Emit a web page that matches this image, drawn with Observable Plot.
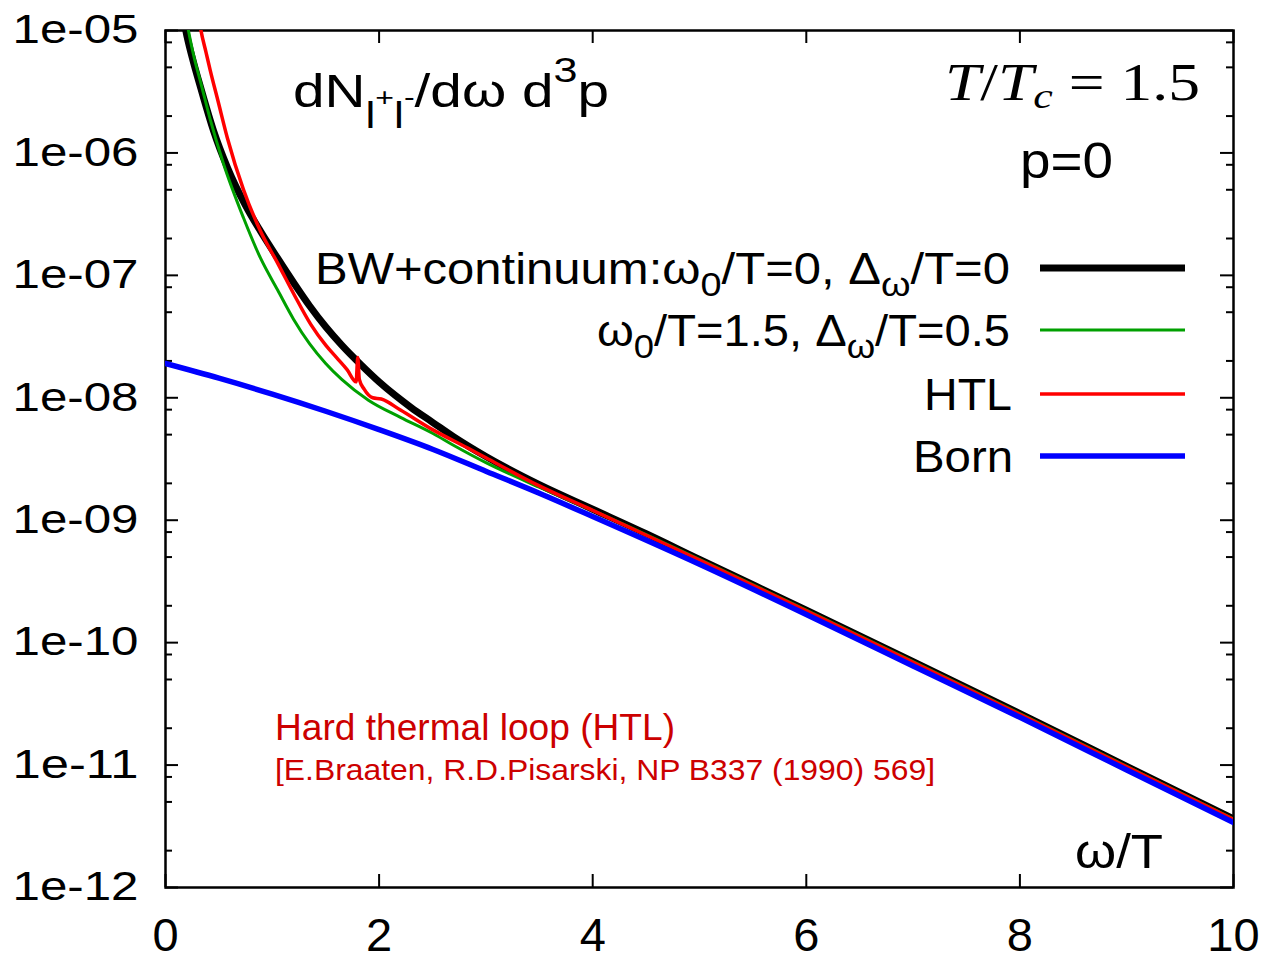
<!DOCTYPE html>
<html><head><meta charset="utf-8">
<script src="https://cdn.jsdelivr.net/npm/d3@7"></script>
<script src="https://cdn.jsdelivr.net/npm/@observablehq/plot@0.6"></script>
<style>body{margin:0;background:#fff} svg{display:block}</style>
</head><body><div id="chart"></div>
<script>
// ---- data (omega/T, log10 of rate) ----
const bornX = [0, 0.5, 1, 1.5, 2, 2.5, 3, 3.5, 4, 5, 6, 7, 8, 9, 10];
const bornY = [-7.72, -7.84, -7.97, -8.11, -8.26, -8.42, -8.60, -8.78, -8.97, -9.36, -9.77, -10.19, -10.61, -11.04, -11.47];

const bwX = [0.15, 0.19, 0.25, 0.33, 0.45, 0.58, 0.75, 0.89, 1.05, 1.2, 1.35, 1.5, 1.65, 1.83, 2.0, 2.15, 2.3, 2.5, 2.7, 3.0, 3.5, 4, 4.5, 5, 6, 7, 8, 9, 10];
const bwY = [-4.80, -5.00, -5.22, -5.47, -5.82, -6.12, -6.43, -6.64, -6.86, -7.06, -7.25, -7.42, -7.57, -7.73, -7.87, -7.98, -8.08, -8.20, -8.32, -8.48, -8.71, -8.91, -9.11, -9.32, -9.735, -10.155, -10.58, -11.01, -11.44];

const bwResX = [0.18, 0.215, 0.26, 0.34, 0.42, 0.54, 0.73, 0.89, 1.05, 1.2, 1.35, 1.5, 1.65, 1.9, 2.2, 2.5, 2.7, 3.0, 3.5, 4, 5, 6, 7, 8, 9, 10];
const bwResY = [-4.82, -5.00, -5.19, -5.46, -5.73, -6.08, -6.53, -6.86, -7.12, -7.36, -7.56, -7.72, -7.85, -8.02, -8.16, -8.29, -8.39, -8.53, -8.73, -8.92, -9.32, -9.735, -10.155, -10.58, -11.01, -11.44];

const htlX = [0.31, 0.33, 0.38, 0.42, 0.49, 0.58, 0.73, 0.89, 1.05, 1.2, 1.36, 1.5, 1.6, 1.7, 1.785, 1.80, 1.815, 1.86, 1.94, 2.02, 2.2, 2.5, 2.83, 3.0, 3.5, 4, 5, 6, 7, 8, 9, 10];
const htlY = [-4.88, -4.99, -5.18, -5.33, -5.57, -5.88, -6.30, -6.64, -6.90, -7.15, -7.40, -7.57, -7.67, -7.77, -7.87, -7.67, -7.85, -7.93, -8.00, -8.01, -8.10, -8.26, -8.41, -8.49, -8.72, -8.92, -9.325, -9.74, -10.16, -10.585, -11.015, -11.445];

// ---- axis ticks ----
const xTicks = [0, 2, 4, 6, 8, 10];
const yMajor = [1e-12, 1e-11, 1e-10, 1e-9, 1e-8, 1e-7, 1e-6, 1e-5];
const yMajorLabels = ["1e-12", "1e-11", "1e-10", "1e-09", "1e-08", "1e-07", "1e-06", "1e-05"];
const yMinorMult = [2, 5, 8];

const toRows = (xs, ys) => xs.map((x, i) => ({x, y: Math.pow(10, ys[i])}));
const born = toRows(bornX, bornY);
const bw = toRows(bwX, bwY);
const bwRes = toRows(bwResX, bwResY);
const htl = toRows(htlX, htlY);
const yMinor = yMajor.slice(0, -1).flatMap(d => yMinorMult.map(m => d * m));

const W = 1271, H = 960, mL = 165, mR = 38, mT = 30, mB = 73;
const fW = W - mL - mR, fH = H - mT - mB;
const FONT = "'Liberation Sans', Arial, sans-serif";

const chart = Plot.plot({
  width: W, height: H,
  marginLeft: mL, marginRight: mR, marginTop: mT, marginBottom: mB,
  x: {domain: [0, 10]},
  y: {type: "log", domain: [1e-12, 1e-5]},
  style: {fontFamily: FONT, background: "white", color: "black", overflow: "visible"},
  marks: [
    Plot.frame({stroke: "black", strokeWidth: 2.5}),
    Plot.tickX(xTicks, {x: d => d, stroke: "black", strokeWidth: 2, insetTop: fH - 13}),
    Plot.tickX(xTicks, {x: d => d, stroke: "black", strokeWidth: 2, insetBottom: fH - 13}),
    Plot.tickY(yMajor, {y: d => d, stroke: "black", strokeWidth: 2, insetRight: fW - 13}),
    Plot.tickY(yMajor, {y: d => d, stroke: "black", strokeWidth: 2, insetLeft: fW - 13}),
    Plot.tickY(yMinor, {y: d => d, stroke: "black", strokeWidth: 2, insetRight: fW - 7}),
    Plot.tickY(yMinor, {y: d => d, stroke: "black", strokeWidth: 2, insetLeft: fW - 7}),
    Plot.axisX(xTicks, {tickSize: 0, tickPadding: 30, fontSize: 47, label: null, tickFormat: d => String(d)}),
    Plot.axisY(yMajor, {tickSize: 0, tickPadding: 27, fontSize: 40, label: null, tickFormat: d => yMajorLabels[yMajor.indexOf(d)]}),
    Plot.line(bw, {x: "x", y: "y", stroke: "black", strokeWidth: 7, curve: "monotone-x", clip: true}),
    Plot.line(bwRes, {x: "x", y: "y", stroke: "#00a000", strokeWidth: 3, curve: "monotone-x", clip: true}),
    Plot.line(htl, {x: "x", y: "y", stroke: "#ff0000", strokeWidth: 3.5, curve: "monotone-x", clip: true}),
    Plot.line(born, {x: "x", y: "y", stroke: "#0000ff", strokeWidth: 5.5, curve: "monotone-x", clip: true})
  ]
});
document.getElementById("chart").appendChild(chart);

const svg = d3.select(chart);
svg.selectAll('[aria-label="y-axis tick label"] text')
  .attr("textLength", 126).attr("lengthAdjust", "spacingAndGlyphs");

const g = svg.append("g").attr("font-family", FONT).attr("fill", "black").attr("text-anchor", "start");
function addText(x, y, size, parts, len, extra = {}) {
  const t = g.append("text").attr("x", x).attr("y", y).attr("font-size", size).attr("text-anchor", "start");
  if (len) t.attr("textLength", len).attr("lengthAdjust", "spacingAndGlyphs");
  for (const [k, v] of Object.entries(extra)) t.attr(k, v);
  for (const p of parts) {
    const s = t.append("tspan").text(p.t);
    if (p.size) s.attr("font-size", p.size);
    if (p.dy) s.attr("dy", p.dy);
    if (p.italic) s.attr("font-style", "italic");
  }
  return t;
}

// title
addText(293, 107, 46, [
  {t: "dN"}, {t: "l", size: 36, dy: 21}, {t: "+", size: 26, dy: -22}, {t: "l", size: 36, dy: 22},
  {t: "-", size: 26, dy: -22}, {t: "/dω d", size: 46, dy: 1}, {t: "3", size: 35, dy: -25}, {t: "p", size: 46, dy: 25}
], 316);

// T/Tc
addText(945, 100, 52, [
  {t: "T", italic: true}, {t: "/"}, {t: "T", italic: true}, {t: "c", italic: true, size: 36, dy: 8}, {t: " = 1.5", dy: -8}
], 255, {"font-family": "'Liberation Serif', 'Times New Roman', serif"});

addText(1020, 178, 50, [{t: "p=0"}], 93);

// legend
addText(315, 284, 44, [
  {t: "BW+continuum:ω"}, {t: "0", size: 34, dy: 12}, {t: "/T=0, Δ", dy: -12}, {t: "ω", size: 34, dy: 12}, {t: "/T=0", dy: -12}
], 695);
addText(597, 346, 44, [
  {t: "ω"}, {t: "0", size: 34, dy: 12}, {t: "/T=1.5, Δ", dy: -12}, {t: "ω", size: 34, dy: 12}, {t: "/T=0.5", dy: -12}
], 413);
addText(924, 410, 44, [{t: "HTL"}], 88);
addText(913, 472, 44, [{t: "Born"}], 100);

const legendLines = [
  {y: 268, c: "black", w: 7},
  {y: 330, c: "#00a000", w: 3},
  {y: 394, c: "#ff0000", w: 3.5},
  {y: 456, c: "#0000ff", w: 5.5}
];
for (const l of legendLines) {
  g.append("line").attr("x1", 1040).attr("x2", 1185).attr("y1", l.y).attr("y2", l.y)
    .attr("stroke", l.c).attr("stroke-width", l.w);
}

// annotations
addText(275, 740, 37, [{t: "Hard thermal loop (HTL)"}], 400, {fill: "#cc0000"});
addText(275, 780, 30, [{t: "[E.Braaten, R.D.Pisarski, NP B337 (1990) 569]"}], 660, {fill: "#cc0000"});
addText(1075, 868, 48, [{t: "ω/T"}], 88);
</script>
</body></html>
